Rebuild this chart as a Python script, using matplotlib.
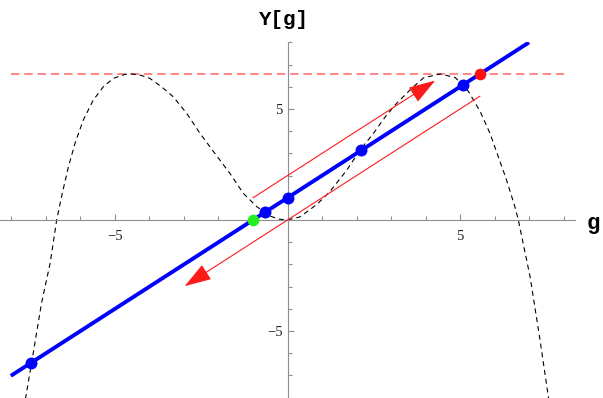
import matplotlib
matplotlib.use('Agg')
import matplotlib.pyplot as plt
from matplotlib.ticker import FixedLocator

plt.rcParams['font.family'] = ['Liberation Serif', 'DejaVu Serif']

# dashed curve Y[g]
curve_g = [-7.60, -7.42, -7.13, -6.88, -6.69, -6.55, -6.35, -6.16, -5.92, -5.63,
           -5.34, -5.05, -4.71, -4.52, -4.25, -3.99, -3.65, -3.31, -2.92, -2.57,
           -2.25, -1.67, -1.28, -0.89, -0.51, -0.25, 0.0, 0.36, 0.85, 1.23,
           1.72, 2.10, 2.49, 2.85, 3.16, 3.60, 3.94, 4.42, 4.86, 5.24,
           5.58, 5.87, 6.11, 6.35, 6.59, 6.69, 7.03, 7.32, 7.56, 7.62]
curve_y = [-8.10, -6.46, -3.75, -1.95, 0.0, 1.05, 2.40, 3.45, 4.50, 5.40,
           6.00, 6.38, 6.56, 6.58, 6.52, 6.38, 6.00, 5.55, 4.80, 3.98,
           3.30, 2.10, 1.20, 0.60, 0.18, 0.04, 0.0, 0.14, 0.70, 1.28,
           2.25, 3.15, 3.90, 4.68, 5.25, 5.93, 6.40, 6.58, 6.42, 5.80,
           4.90, 3.90, 2.85, 1.80, 0.60, 0.0, -2.55, -5.41, -7.96, -8.40]

level = 6.58                      # red dashed level
level_range = [-8.0, 8.0]

line_g = [-8.02, 7.0]             # blue straight line
line_y = [-7.02, 8.0]

blue_g = [-7.44, -0.64, 0.0, 2.14, 5.10]
blue_y = [-6.44, 0.36, 1.0, 3.14, 6.10]
green_pt = (-1.0, 0.0)
red_pt = (5.58, 6.58)

arrow_up = [(-1.0, 1.0), (4.28, 6.28)]
arrow_down = [(5.58, 5.58), (-2.98, -2.98)]

major_ticks = [-5, 5]
major_labels = [u"\u22125", u"5"]
minor_ticks = [-8, -7, -6, -4, -3, -2, -1, 1, 2, 3, 4, 6, 7, 8]

W, H = 603, 398
fig = plt.figure(figsize=(W / 100.0, H / 100.0), dpi=100)
ax = fig.add_axes([0, 0.4 / H, 575.0 / W, 355.2 / H])
ax.set_xlim(-8.333, 8.333)
ax.set_ylim(-8.0, 8.0)
ax.patch.set_alpha(0)

axcol = '#8f8f8f'
for s in ['top', 'right']:
    ax.spines[s].set_visible(False)
for s in ['left', 'bottom']:
    ax.spines[s].set_position(('data', 0))
    ax.spines[s].set_color(axcol)
    ax.spines[s].set_linewidth(0.8)

for axis in [ax.xaxis, ax.yaxis]:
    axis.set_major_locator(FixedLocator(major_ticks))
    axis.set_minor_locator(FixedLocator(minor_ticks))
ax.set_xticklabels(major_labels, fontfamily='Liberation Serif')
ax.set_yticklabels(major_labels, fontfamily='Liberation Serif')
ax.tick_params(which='both', direction='in', color=axcol, width=0.8,
               labelsize=10.5, labelcolor='#222222')
ax.tick_params(which='major', length=4.4)
ax.tick_params(which='minor', length=2.7)
ax.tick_params(axis='x', which='major', pad=7)
ax.tick_params(axis='y', which='major', pad=3.5)

ax.plot(level_range, [level, level], color='#ff6464', lw=1.1, dashes=(5.5, 3.2), zorder=2)
ax.plot(curve_g, curve_y, color='black', lw=0.8, dashes=(4.5, 3.5), zorder=2)

for (x0, y0), (x1, y1) in [arrow_up, arrow_down]:
    ax.annotate('', xy=(x1, y1), xytext=(x0, y0),
                arrowprops=dict(arrowstyle='-|>,head_length=1.3,head_width=0.42',
                                mutation_scale=13, color='#ff1a1a', lw=0.8,
                                shrinkA=0, shrinkB=0),
                zorder=3)

ax.plot(line_g, line_y, color='#0000ff', lw=2.8, solid_capstyle='butt', zorder=4)
ax.plot(blue_g, blue_y, 'o', color='#0000ff', ms=8.6, mew=0, zorder=5)
ax.plot([green_pt[0]], [green_pt[1]], 'o', color='#22ee22', ms=8.4, mew=0, zorder=5)
ax.plot([red_pt[0]], [red_pt[1]], 'o', color='#ff1010', ms=8.4, mew=0, zorder=5)

fig.text(284.0 / W, 1 - 25.0 / H, u"\u03a5[g]", family='Liberation Mono',
         weight='bold', fontsize=15, ha='center', va='baseline')
fig.text(593.0 / W, 1 - 229.5 / H, u"g", family='Liberation Mono',
         weight='bold', fontsize=16, ha='center', va='baseline')

fig.savefig('out.png', dpi=100)
